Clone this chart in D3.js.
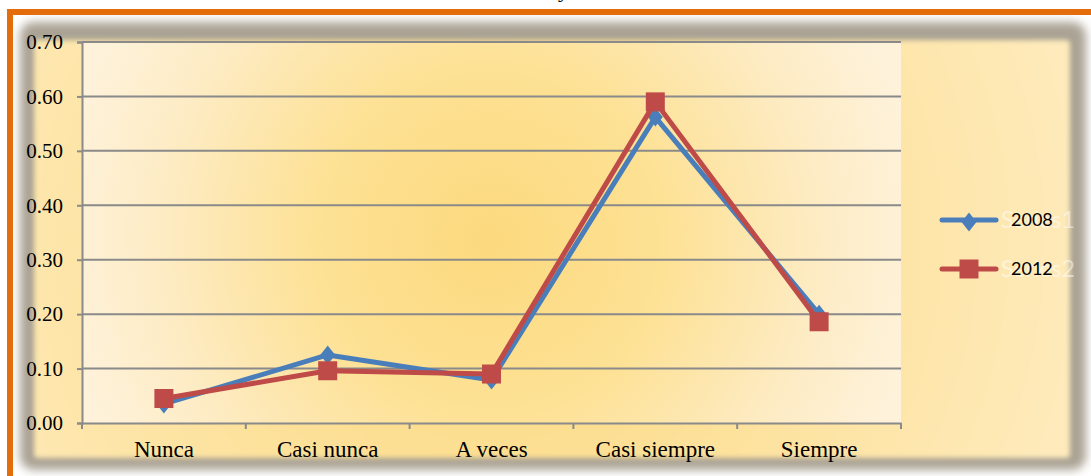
<!DOCTYPE html>
<html>
<head>
<meta charset="utf-8">
<script src="https://cdn.jsdelivr.net/npm/d3@7"></script>
<style>
  body { margin: 0; background: #fff; }
  svg { display: block; }
</style>
</head>
<body>
<div id="chart"></div>
<script>
// Chart data
const categories = ["Nunca", "Casi nunca", "A veces", "Casi siempre", "Siempre"];
const values2008 = [0.035, 0.125, 0.079, 0.562, 0.200];
const values2012 = [0.045, 0.096, 0.090, 0.590, 0.186];
const seriesNames = ["2008", "2012"];
const hiddenNames = ["Series1", "Series2"];
const yTicks = [0, 0.1, 0.2, 0.3, 0.4, 0.5, 0.6, 0.7];

const width = 1091, height = 476;
const plot = { left: 82, right: 901, top: 42, bottom: 423 };

const svg = d3.select("#chart").append("svg")
    .attr("width", width)
    .attr("height", height);

const defs = svg.append("defs");

// radial background for chart area
const bg = defs.append("radialGradient")
    .attr("id", "bg")
    .attr("gradientUnits", "userSpaceOnUse")
    .attr("cx", 490).attr("cy", 240).attr("r", 600);
bg.append("stop").attr("offset", "0%").attr("stop-color", "#fcd97c");
bg.append("stop").attr("offset", "100%").attr("stop-color", "#feeabb");

// lighter radial fill for the plot area
const pg = defs.append("radialGradient")
    .attr("id", "pg")
    .attr("gradientUnits", "userSpaceOnUse")
    .attr("cx", 490).attr("cy", 240).attr("r", 430);
pg.append("stop").attr("offset", "0%").attr("stop-color", "#fcd97e");
pg.append("stop").attr("offset", "40%").attr("stop-color", "#fde194");
pg.append("stop").attr("offset", "75%").attr("stop-color", "#fdebc2");
pg.append("stop").attr("offset", "100%").attr("stop-color", "#fef2da");

const blur = defs.append("filter").attr("id", "blur")
    .attr("x", "-10%").attr("y", "-10%").attr("width", "120%").attr("height", "120%");
blur.append("feGaussianBlur").attr("stdDeviation", 5);

const soft = defs.append("filter").attr("id", "soft")
    .attr("x", "-5%").attr("y", "-5%").attr("width", "110%").attr("height", "110%");
soft.append("feGaussianBlur").attr("stdDeviation", 2.5);

// orange outer frame
svg.append("rect")
    .attr("x", 10).attr("y", 12)
    .attr("width", 1200).attr("height", 600)
    .attr("fill", "none")
    .attr("stroke", "#e46c0a")
    .attr("stroke-width", 6);

// cut-off title remnant
svg.append("text")
    .attr("x", 558).attr("y", -3)
    .attr("font-family", "Liberation Serif")
    .attr("font-size", 22)
    .attr("fill", "#000")
    .text("y");

// shadow + chart area
svg.append("rect")
    .attr("x", 20).attr("y", 22)
    .attr("width", 1066).attr("height", 448)
    .attr("rx", 14)
    .attr("fill", "#aaa394")
    .attr("filter", "url(#blur)");

svg.append("rect")
    .attr("x", 34).attr("y", 40)
    .attr("width", 1036).attr("height", 418)
    .attr("rx", 4)
    .attr("fill", "url(#bg)")
    .attr("filter", "url(#soft)");

// plot area (lighter)
svg.append("rect")
    .attr("x", plot.left).attr("y", plot.top)
    .attr("width", plot.right - plot.left).attr("height", plot.bottom - plot.top)
    .attr("fill", "url(#pg)");

// Scales
const x = d3.scaleBand()
    .domain(categories)
    .range([plot.left, plot.right]);

const y = d3.scaleLinear()
    .domain([0, 0.7])
    .range([plot.bottom, plot.top]);

// gridlines
svg.append("g")
    .selectAll("line")
    .data(yTicks.filter(d => d > 0))
    .enter().append("line")
    .attr("x1", plot.left).attr("x2", plot.right)
    .attr("y1", d => y(d)).attr("y2", d => y(d))
    .attr("stroke", "#8a8a8a")
    .attr("stroke-width", 2);

// y axis
const yAxis = svg.append("g")
    .attr("transform", `translate(${plot.left},0)`)
    .call(d3.axisLeft(y).tickValues(yTicks).tickFormat(d3.format(".2f")).tickSize(5).tickPadding(14));
yAxis.select(".domain").attr("stroke", "#8a8a8a").attr("stroke-width", 2);
yAxis.selectAll(".tick line").attr("stroke", "#8a8a8a").attr("stroke-width", 2);
yAxis.selectAll("text")
    .attr("font-family", "Liberation Serif")
    .attr("font-size", 21)
    .attr("fill", "#000");

// x axis
const xAxis = svg.append("g")
    .attr("transform", `translate(0,${plot.bottom})`)
    .call(d3.axisBottom(x).tickSize(0).tickPadding(18));
xAxis.select(".domain").attr("stroke", "#8a8a8a").attr("stroke-width", 2);
xAxis.selectAll("text")
    .attr("font-family", "Liberation Serif")
    .attr("font-size", 23)
    .attr("fill", "#000");

// category boundary ticks
const bounds = categories.map(c => x(c)).concat([plot.right]);
svg.append("g")
    .selectAll("line")
    .data(bounds)
    .enter().append("line")
    .attr("x1", d => d).attr("x2", d => d)
    .attr("y1", plot.bottom).attr("y2", plot.bottom + 6)
    .attr("stroke", "#8a8a8a")
    .attr("stroke-width", 2);

const cx = d => x(d) + x.bandwidth() / 2;
const colors = ["#4a7ebb", "#be4b48"];
const allSeries = [values2008, values2012];

// tall diamond marker like Excel's
const tallDiamond = {
    draw(ctx) {
        ctx.moveTo(0, -9.5);
        ctx.lineTo(7.5, 0);
        ctx.lineTo(0, 9.5);
        ctx.lineTo(-7.5, 0);
        ctx.closePath();
    }
};
const diamond = d3.symbol().type(tallDiamond);

const line = d3.line()
    .x((d, i) => cx(categories[i]))
    .y(d => y(d));

allSeries.forEach((vals, s) => {
    const g = svg.append("g");
    g.append("path")
        .datum(vals)
        .attr("d", line)
        .attr("fill", "none")
        .attr("stroke", colors[s])
        .attr("stroke-width", 5)
        .attr("stroke-linejoin", "round");
    if (s === 0) {
        g.selectAll("path.mk")
            .data(vals)
            .enter().append("path")
            .attr("class", "mk")
            .attr("d", diamond)
            .attr("transform", (d, i) => `translate(${cx(categories[i])},${y(d)})`)
            .attr("fill", colors[s]);
    } else {
        g.selectAll("rect.mk")
            .data(vals)
            .enter().append("rect")
            .attr("class", "mk")
            .attr("x", (d, i) => cx(categories[i]) - 9.5)
            .attr("y", d => y(d) - 9.5)
            .attr("width", 19).attr("height", 19)
            .attr("fill", colors[s]);
    }
});

// Legend
const legendY = [220, 269];
const legend = svg.append("g");
seriesNames.forEach((name, s) => {
    const ly = legendY[s];
    legend.append("line")
        .attr("x1", 942).attr("x2", 996)
        .attr("y1", ly).attr("y2", ly)
        .attr("stroke", colors[s])
        .attr("stroke-width", 5)
        .attr("stroke-linecap", "round");
    if (s === 0) {
        legend.append("path")
            .attr("d", diamond)
            .attr("transform", `translate(969,${ly + 2})`)
            .attr("fill", colors[s]);
    } else {
        legend.append("rect")
            .attr("x", 969 - 9.5).attr("y", ly - 9.5)
            .attr("width", 19).attr("height", 19)
            .attr("fill", colors[s]);
    }
    legend.append("text")
        .attr("x", 1001).attr("y", ly + 8)
        .attr("font-family", "Lato")
        .attr("font-size", 23)
        .attr("fill", "#fff")
        .attr("fill-opacity", 0.5)
        .text(hiddenNames[s]);
    legend.append("text")
        .attr("x", 1011).attr("y", ly + 6)
        .attr("font-family", "Lato")
        .attr("font-size", 18)
        .attr("fill", "#000")
        .text(name);
});
</script>
</body>
</html>
